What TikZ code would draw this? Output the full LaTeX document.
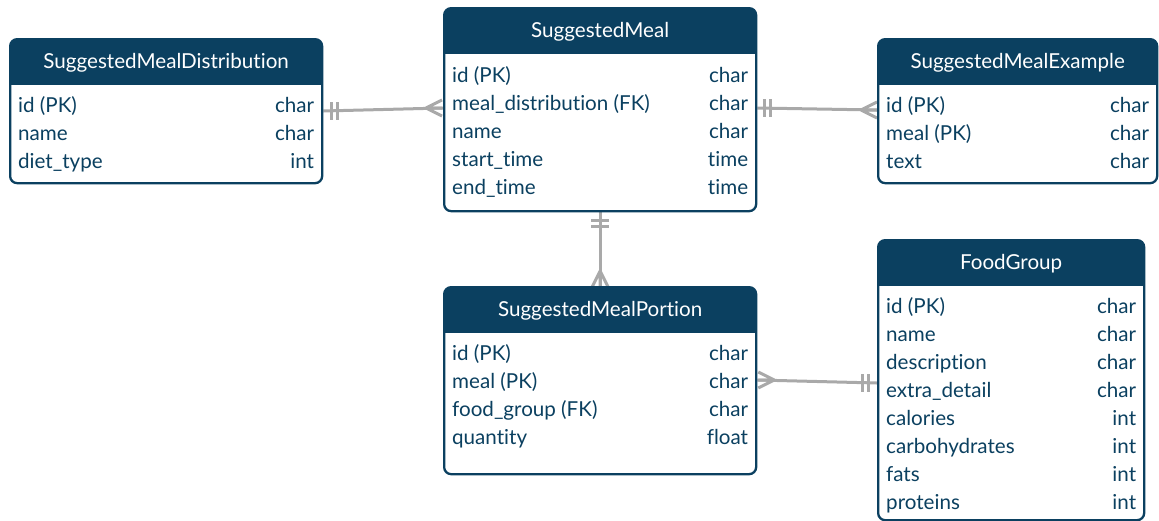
\documentclass[tikz,border=0pt]{standalone}
\usepackage{fontspec}
\setmainfont{Lato}[Ligatures=NoCommon]
\usetikzlibrary{calc,backgrounds}
\definecolor{xanhdam}{HTML}{0B4060}
\definecolor{xam}{HTML}{A9A9A9}
\tikzset{
	bang/.style={draw=xanhdam,line width=2.3pt,rounded corners=7pt,fill=white,inner sep=0pt,anchor=north west,
		path picture={\fill[xanhdam,sharp corners] (path picture bounding box.north west) rectangle ([yshift=-46pt]path picture bounding box.north east);}},
	chu/.style={inner sep=0pt,font=\fontsize{20.6}{24}\selectfont},
	tieude/.style={chu,text=white,anchor=base},
	truong/.style={chu,text=xanhdam,anchor=base west},
	kieu/.style={chu,text=xanhdam,anchor=base east},
	noi/.style={draw=xam,line width=3pt},
	gach/.pic={\draw[noi] (0,-9)--(0,9) (6,-9)--(6,9);},
	chan/.pic={\draw[noi] (0,0)--(16,-8) (0,0)--(16,0) (0,0)--(16,8);}
}
\begin{document}
\begin{tikzpicture}[x=1pt,y=-1pt]
	\useasboundingbox (0,0) rectangle (1159,520);
	%Bảng SuggestedMealDistribution
	\node[bang,minimum width=312pt,minimum height=144pt] (smd) at (9,38) {};
	\node[tieude] (smd-t) at ($(smd.north)+(0,30)$) {SuggestedMealDistribution};
	\foreach \a/\b [count=\i] in {id (PK)/char,name/char,diet\_type/int}{
		\node[truong] (smd-\i) at ($(smd.north west)+(9,46+28*\i)$) {\a};
		\node[kieu] (smd-\i-k) at ($(smd.north east)+(-9,46+28*\i)$) {\b};
	}
	%Bảng SuggestedMeal
	\node[bang,minimum width=312pt,minimum height=203pt] (sm) at (443,7) {};
	\node[tieude] (sm-t) at ($(sm.north)+(0,30)$) {SuggestedMeal};
	\foreach \a/\b [count=\i] in {id (PK)/char,meal\_distribution (FK)/char,name/char,start\_time/time,end\_time/time}{
		\node[truong] (sm-\i) at ($(sm.north west)+(9,47+28*\i)$) {\a};
		\node[kieu] (sm-\i-k) at ($(sm.north east)+(-9,47+28*\i)$) {\b};
	}
	%Bảng SuggestedMealExample
	\node[bang,minimum width=279pt,minimum height=144pt] (sme) at (877,38) {};
	\node[tieude] (sme-t) at ($(sme.north)+(0,30)$) {SuggestedMealExample};
	\foreach \a/\b [count=\i] in {id (PK)/char,meal (PK)/char,text/char}{
		\node[truong] (sme-\i) at ($(sme.north west)+(9,46+28*\i)$) {\a};
		\node[kieu] (sme-\i-k) at ($(sme.north east)+(-9,46+28*\i)$) {\b};
	}
	%Bảng SuggestedMealPortion
	\node[bang,minimum width=312pt,minimum height=187pt] (smp) at (443,286) {};
	\node[tieude] (smp-t) at ($(smp.north)+(0,30)$) {SuggestedMealPortion};
	\foreach \a/\b [count=\i] in {id (PK)/char,meal (PK)/char,food\_group (FK)/char,quantity/float}{
		\node[truong] (smp-\i) at ($(smp.north west)+(9,46+28*\i)$) {\a};
		\node[kieu] (smp-\i-k) at ($(smp.north east)+(-9,46+28*\i)$) {\b};
	}
	%Bảng FoodGroup
	\node[bang,minimum width=266pt,minimum height=280pt] (fg) at (877,239) {};
	\node[tieude] (fg-t) at ($(fg.north)+(0,30)$) {FoodGroup};
	\foreach \a/\b [count=\i] in {id (PK)/char,name/char,description/char,extra\_detail/char,calories/int,carbohydrates/int,fats/int,proteins/int}{
		\node[truong] (fg-\i) at ($(fg.north west)+(9,46+28*\i)$) {\a};
		\node[kieu] (fg-\i-k) at ($(fg.north east)+(-9,46+28*\i)$) {\b};
	}
	%Đường nối
	\begin{scope}[on background layer]
		\draw[noi] ($(smd.north east)+(0,73)$) coordinate (l1a) -- ($(sm.north west)+(0,101)$) coordinate (l1b);
		\pic at ($(l1a)+(8,0)$) {gach};
		\pic at ($(l1b)+(-17,0)$) {chan};
		\draw[noi] ($(sm.north east)+(0,101)$) coordinate (l2a) -- ($(sme.north west)+(0,72)$) coordinate (l2b);
		\pic at ($(l2a)+(7,0)$) {gach};
		\pic at ($(l2b)+(-16,0)$) {chan};
		\draw[noi] (sm.south) coordinate (l3a) -- (smp.north) coordinate (l3b);
		\pic[rotate=-90] at ($(l3a)+(0,8)$) {gach};
		\pic[rotate=-90] at ($(l3b)+(0,-15)$) {chan};
		\draw[noi] ($(smp.north east)+(0,94)$) coordinate (l4a) -- ($(fg.north west)+(0,144)$) coordinate (l4b);
		\pic[rotate=180] at ($(l4a)+(17,0)$) {chan};
		\pic at ($(l4b)+(-15,0)$) {gach};
	\end{scope}
\end{tikzpicture}
\end{document}
